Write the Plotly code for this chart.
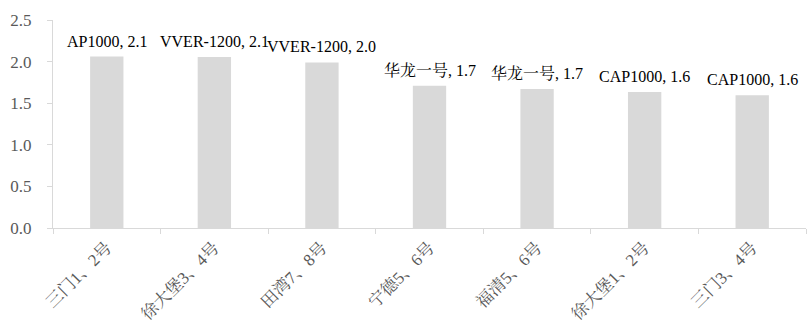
import plotly.graph_objects as go

categories = ["三门1、2号", "徐大堡3、4号", "田湾7、8号", "宁德5、6号", "福清5、6号", "徐大堡1、2号", "三门3、4号"]
reactor_types = ["AP1000", "VVER-1200", "VVER-1200", "华龙一号", "华龙一号", "CAP1000", "CAP1000"]
values = [2.06, 2.055, 1.99, 1.71, 1.67, 1.635, 1.595]
y_ticks = [0.0, 0.5, 1.0, 1.5, 2.0, 2.5]

labels = [f"{t}, {v:.1f}" for t, v in zip(reactor_types, values)]

SERIF = "'Liberation Serif', 'Times New Roman', 'Noto Serif CJK SC', 'Noto Sans CJK SC', serif"

fig = go.Figure()
fig.add_trace(go.Bar(
    x=categories, y=values,
    marker=dict(color="#d9d9d9", line=dict(width=0)),
    showlegend=False,
))

for c, v, lab in zip(categories, values, labels):
    fig.add_annotation(x=c, y=v, text=lab, showarrow=False, yanchor="bottom",
                       yshift=5, font=dict(family=SERIF, size=16, color="#000000"))

fig.update_layout(
    width=807, height=330,
    margin=dict(l=53, r=1, t=20, b=102),
    plot_bgcolor="white", paper_bgcolor="white",
    bargap=0.69,
    font=dict(family=SERIF, size=16, color="#595959"),
)
fig.update_yaxes(
    range=[0, 2.5], tickvals=y_ticks, ticktext=[f"{t:.1f}" for t in y_ticks],
    showgrid=False, zeroline=False, showline=True, linecolor="#d9d9d9", linewidth=1,
    ticks="outside", ticklen=5, tickcolor="#d9d9d9", ticklabelstandoff=12,
    tickfont=dict(family=SERIF, size=17, color="#595959"),
)
fig.update_xaxes(
    showgrid=False, showline=True, linecolor="#d9d9d9", linewidth=1,
    ticks="outside", tickson="boundaries", ticklen=5, tickcolor="#d9d9d9",
    tickangle=-45, ticklabelstandoff=2,
    tickfont=dict(family=SERIF, size=17, color="#595959"),
)

fig.write_html("out.html")
